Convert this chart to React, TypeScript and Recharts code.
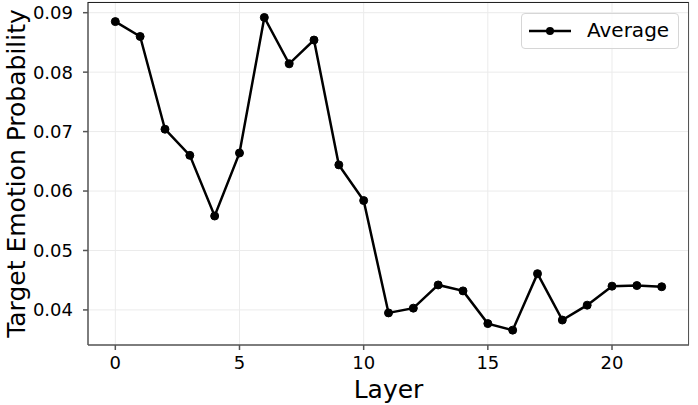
import React from 'react';
import { LineChart, Line, XAxis, YAxis, CartesianGrid, Legend } from 'recharts';

const layers = [0, 1, 2, 3, 4, 5, 6, 7, 8, 9, 10, 11, 12, 13, 14, 15, 16, 17, 18, 19, 20, 21, 22];
const average = [
  0.0885, 0.0860, 0.0704, 0.0660, 0.0558, 0.0664, 0.0892, 0.0814, 0.0854, 0.0644,
  0.0584, 0.0395, 0.0403, 0.0442, 0.0432, 0.0377, 0.0366, 0.0461, 0.0383, 0.0408,
  0.0440, 0.0441, 0.0439,
];
const xTicks = [0, 5, 10, 15, 20];
const yTicks = [0.04, 0.05, 0.06, 0.07, 0.08, 0.09];

const data = layers.map((l, i) => ({ layer: l, avg: average[i] }));

const FONT = 'DejaVu Sans';
const AXIS = '#555555';

const LegendBox = () => (
  <div
    style={{
      position: 'absolute',
      left: 521,
      top: 13,
      width: 158,
      height: 36,
      boxSizing: 'border-box',
      border: '1px solid #d6d6d6',
      borderRadius: 4,
      background: 'rgba(255,255,255,0.8)',
      fontFamily: FONT,
      fontSize: 20,
      color: '#000',
    }}
  >
    <svg width={50} height={34} style={{ position: 'absolute', left: 5, top: 0 }}>
      <line x1={2} y1={17} x2={44} y2={17} stroke="#000" strokeWidth={2.5} />
      <circle cx={23} cy={17} r={4} fill="#000" />
    </svg>
    <span style={{ position: 'absolute', left: 65, top: 4, lineHeight: '24px' }}>Average</span>
  </div>
);

const YLabel = (props: any) => {
  const { viewBox } = props;
  const cx = viewBox.x + 16;
  const cy = viewBox.y + viewBox.height / 2;
  return (
    <text
      x={cx}
      y={cy}
      transform={`rotate(-90, ${cx}, ${cy})`}
      textAnchor="middle"
      dominantBaseline="central"
      fontFamily={FONT}
      fontSize={25}
      fill="#000"
    >
      Target Emotion Probability
    </text>
  );
};

const XLabel = (props: any) => {
  const { viewBox } = props;
  return (
    <text
      x={viewBox.x + viewBox.width / 2}
      y={398}
      textAnchor="middle"
      fontFamily={FONT}
      fontSize={25}
      fill="#000"
    >
      Layer
    </text>
  );
};

export default function App() {
  return (
    <div style={{ position: 'absolute', left: 0, top: 0, width: 698, height: 405, background: '#fff' }}>
      <LineChart width={698} height={405} data={data} margin={{ top: 2, right: 9, bottom: 0, left: 0 }}>
        <CartesianGrid stroke="#ebebeb" strokeWidth={1} />
        <XAxis
          dataKey="layer"
          type="number"
          domain={[-1.1, 23.1]}
          ticks={xTicks}
          height={60}
          tickSize={5}
          tickMargin={6}
          stroke={AXIS}
          strokeWidth={1.5}
          tick={{ fontFamily: FONT, fontSize: 18, fill: '#000' }}
          label={<XLabel />}
        />
        <YAxis
          type="number"
          domain={[0.0341, 0.0918]}
          ticks={yTicks}
          width={88}
          tickSize={5}
          tickMargin={10}
          stroke={AXIS}
          strokeWidth={1.5}
          allowDataOverflow
          tickFormatter={(v: number) => v.toFixed(2)}
          tick={{ fontFamily: FONT, fontSize: 18, fill: '#000' }}
          label={<YLabel />}
        />
        <Legend content={<LegendBox />} wrapperStyle={{ position: 'absolute', left: 0, top: 0, width: 0, height: 0 }} />
        <Line
          dataKey="avg"
          name="Average"
          stroke="#000"
          strokeWidth={2.5}
          dot={{ r: 4, fill: '#000', stroke: '#000', strokeWidth: 1 }}
          activeDot={false}
          isAnimationActive={false}
        />
      </LineChart>
      <div
        style={{
          position: 'absolute',
          left: 88,
          top: 2,
          width: 601,
          height: 343,
          borderTop: '1.5px solid #222',
          borderRight: '1.5px solid ' + AXIS,
          boxSizing: 'border-box',
          pointerEvents: 'none',
        }}
      />
    </div>
  );
}
